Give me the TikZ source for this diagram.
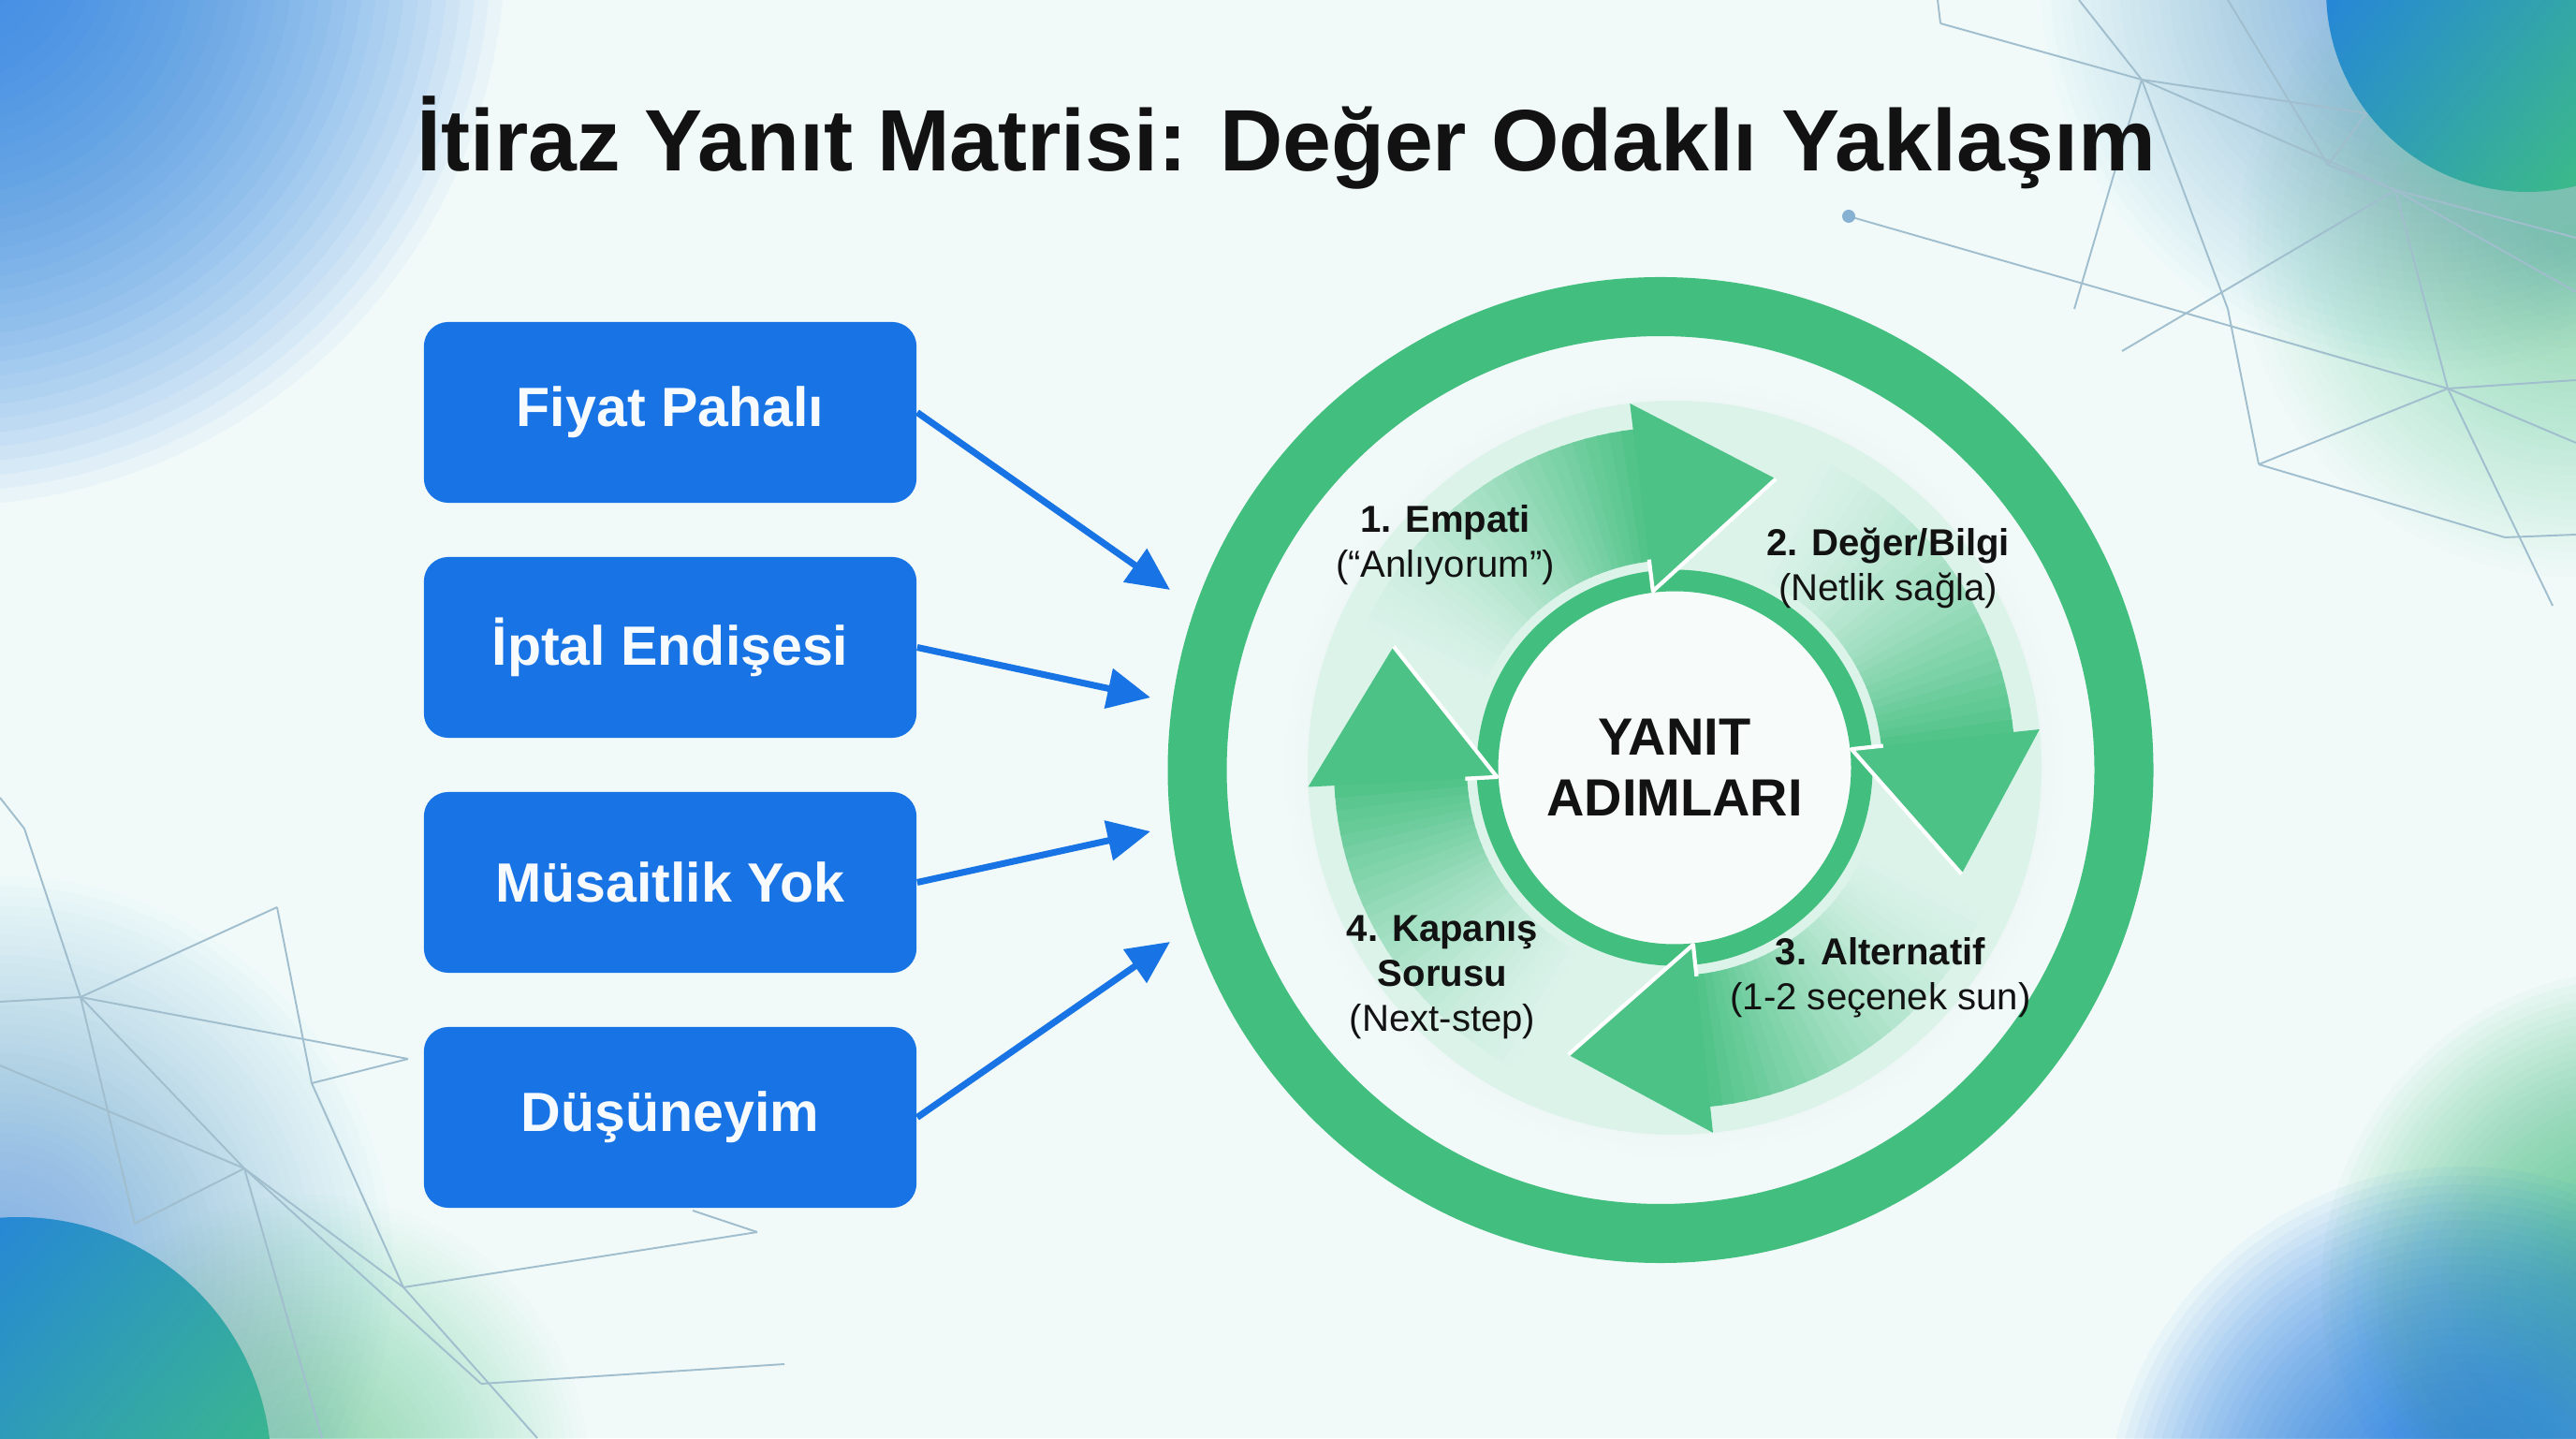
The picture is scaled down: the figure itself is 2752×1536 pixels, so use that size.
\documentclass[tikz,border=0pt]{standalone}
\usepackage{fontspec}
\setmainfont{Liberation Sans}
\usetikzlibrary{arrows.meta,calc}
\definecolor{bg}{RGB}{241,250,249}
\definecolor{gmain}{RGB}{66,190,126}
\definecolor{bbox}{RGB}{24,115,228}
\definecolor{cblue}{RGB}{34,126,228}
\definecolor{cgreen}{RGB}{62,192,128}
\definecolor{meshc}{RGB}{160,190,205}
\definecolor{txt}{RGB}{18,18,18}
% soft glow: stacked translucent discs
\newcommand{\softglow}[4]{%
  \foreach \k in {1,...,40} {\fill[#3, opacity=#4] #1 circle ({#2/40*\k});}%
}
\begin{document}
\begin{tikzpicture}[x=0.01cm,y=0.01cm,
  objbox/.style={draw=none, fill=bbox, rounded corners=2.6mm, minimum width=5.26cm, minimum height=1.93cm, inner sep=0pt, text=white!97!bbox, font=\fontsize{16.8pt}{20pt}\selectfont\bfseries},
  conn/.style={draw=bbox, line width=2pt, -{Triangle[length=13pt,width=12pt]}},
  meshline/.style={draw=meshc, line width=0.55pt},
  steplbl/.style={align=center, text=txt, font=\fontsize{11.4pt}{13.6pt}\selectfont},
]
\useasboundingbox (0,0) rectangle (2752,1536);
\begin{scope}
\clip (0,0) rectangle (2752,1536);
\fill[bg] (0,0) rectangle (2752,1536);
% glows
\softglow{(-60,1596)}{600}{cblue}{0.044}
\softglow{(2600,1560)}{420}{cblue}{0.016}
\softglow{(2752,1280)}{360}{cgreen}{0.014}
\softglow{(0,180)}{420}{cblue}{0.014}
\softglow{(330,-40)}{300}{cgreen}{0.016}
\softglow{(2820,160)}{340}{cgreen}{0.036}
\softglow{(2630,-90)}{380}{cblue}{0.048}
% mesh top-right
\coordinate (m1) at (2070,1536); \coordinate (m2) at (2073,1511);
\coordinate (m3) at (2288,1451); \coordinate (m4) at (2221,1536);
\coordinate (m5) at (2380,1536); \coordinate (m6) at (2487,1360);
\coordinate (m7) at (2528,1415); \coordinate (m8) at (2752,1407);
\coordinate (m9) at (2216,1206); \coordinate (m10) at (2380,1206);
\coordinate (m11) at (2413,1040); \coordinate (m12) at (2559,1333);
\coordinate (m13) at (2267,1161); \coordinate (m14) at (2752,1282);
\coordinate (m15) at (2615,1121); \coordinate (m16) at (1975,1305);
\coordinate (m17) at (2752,1063); \coordinate (m18) at (2676,962);
\coordinate (m19) at (2752,965); \coordinate (m20) at (2752,1130);
\coordinate (m21) at (2727,889); \coordinate (m22) at (2752,1224);
\foreach \u/\v in {m1/m2,m2/m3,m4/m3,m5/m6,m6/m7,m3/m7,m7/m8,m3/m9,m3/m10,m10/m11,m3/m12,m12/m13,m12/m14,m12/m15,m16/m15,m15/m17,m11/m15,m11/m18,m18/m19,m15/m20,m15/m21,m12/m22,m6/m12}
  \draw[meshline] (\u) -- (\v);
\fill[meshc!80!cblue] (m16) circle (7);
% mesh bottom-left
\coordinate (n1) at (0,684); \coordinate (n2) at (26,651);
\coordinate (n3) at (86,471); \coordinate (n4) at (0,466);
\coordinate (n5) at (296,567); \coordinate (n6) at (436,405);
\coordinate (n7) at (261,288); \coordinate (n8) at (144,229);
\coordinate (n9) at (431,161); \coordinate (n10) at (514,58);
\coordinate (n11) at (809,220); \coordinate (n12) at (838,79);
\coordinate (n13) at (740,243); \coordinate (n14) at (0,398);
\coordinate (n15) at (333,379); \coordinate (n16) at (344,0);
\coordinate (n17) at (574,0);
\foreach \u/\v in {n1/n2,n2/n3,n3/n8,n4/n3,n3/n5,n3/n6,n3/n7,n5/n15,n15/n9,n6/n15,n14/n7,n7/n8,n7/n10,n7/n9,n9/n11,n13/n11,n10/n12,n7/n16,n9/n17}
  \draw[meshline] (\u) -- (\v);
% corner circles
\shade[top color=cblue, bottom color=cgreen, shading angle=50] (2700,1546) circle (215);
\shade[top color=cblue, bottom color=cgreen, shading angle=50] (20,-34) circle (270);
\end{scope}

% title
\node[font=\fontsize{26.5pt}{31pt}\selectfont\bfseries, text=txt, anchor=base] (title) at (1374,1353) {İtiraz Yanıt Matrisi: Değer Odaklı Yaklaşım};

% objection boxes
\node[objbox] (b1) at (716,1095.5) {Fiyat Pahalı};
\node[objbox] (b2) at (716,844.5) {İptal Endişesi};
\node[objbox] (b3) at (716,593.5) {Müsaitlik Yok};
\node[objbox] (b4) at (716,342.5) {Düşüneyim};

\coordinate (t1) at (1250,906);
\coordinate (t2) at (1229,791);
\coordinate (t3) at (1229,648);
\coordinate (t4) at (1250,530);
\draw[conn] (b1.east) -- (t1);
\draw[conn] (b2.east) -- (t2);
\draw[conn] (b3.east) -- (t3);
\draw[conn] (b4.east) -- (t4);

% cycle
\coordinate (OC) at (1774,713.5);
\coordinate (C) at (1789,716);
\draw[gmain, line width=6.3mm] (OC) circle (495);
\softglow{(C)}{416}{gmain}{0.004}
\fill[gmain!12!bg] (C) circle (392);
\foreach \B in {97,6,-84,183} {
  \foreach \i in {0,...,29} {
    \pgfmathsetmacro{\aA}{\B+63-\i*2.1}
    \pgfmathsetmacro{\aB}{\B+63-(\i+1)*2.1-0.4}
    \pgfmathsetmacro{\pp}{int(12+79*(\i/29)^1.5)}
    \fill[gmain!\pp!bg] ($(C)+(\aA:222)$) arc[start angle=\aA, end angle=\aB, radius=222] -- ($(C)+(\aB:364)$) arc[start angle=\aB, end angle=\aA, radius=364] -- cycle;
  }
}
\fill[bg!60!white] (C) circle (190);
\draw[gmain, line width=2.3mm] (C) circle (200);
\foreach \B in {97,6,-84,183} {
  \coordinate (hi) at ($(C)+(\B:190)$);
  \coordinate (ho) at ($(C)+(\B:392)$);
  \coordinate (ht) at ($(C)+(\B:293)+({\B-90}:145)$);
  \fill[gmain!94!white] (hi) -- (ht) -- (ho) -- cycle;
  \draw[white, line width=1.2pt, line join=round] ($(C)+(\B:224)$) -- (hi) -- (ht);
}

\node[font=\fontsize{15.9pt}{18.5pt}\selectfont\bfseries, text=txt, align=center] (center) at (C) {YANIT\\ADIMLARI};

\node[steplbl] (s1) at (1544,954) {\textbf{1. Empati}\\(“Anlıyorum”)};
\node[steplbl] (s2) at (2017,929) {\textbf{2. Değer/Bilgi}\\(Netlik sağla)};
\node[steplbl] (s3) at (2009,492) {\textbf{3. Alternatif}\\(1-2 seçenek sun)};
\node[steplbl] (s4) at (1541,492) {\textbf{4. Kapanış}\\\textbf{Sorusu}\\(Next-step)};
\end{tikzpicture}
\end{document}
